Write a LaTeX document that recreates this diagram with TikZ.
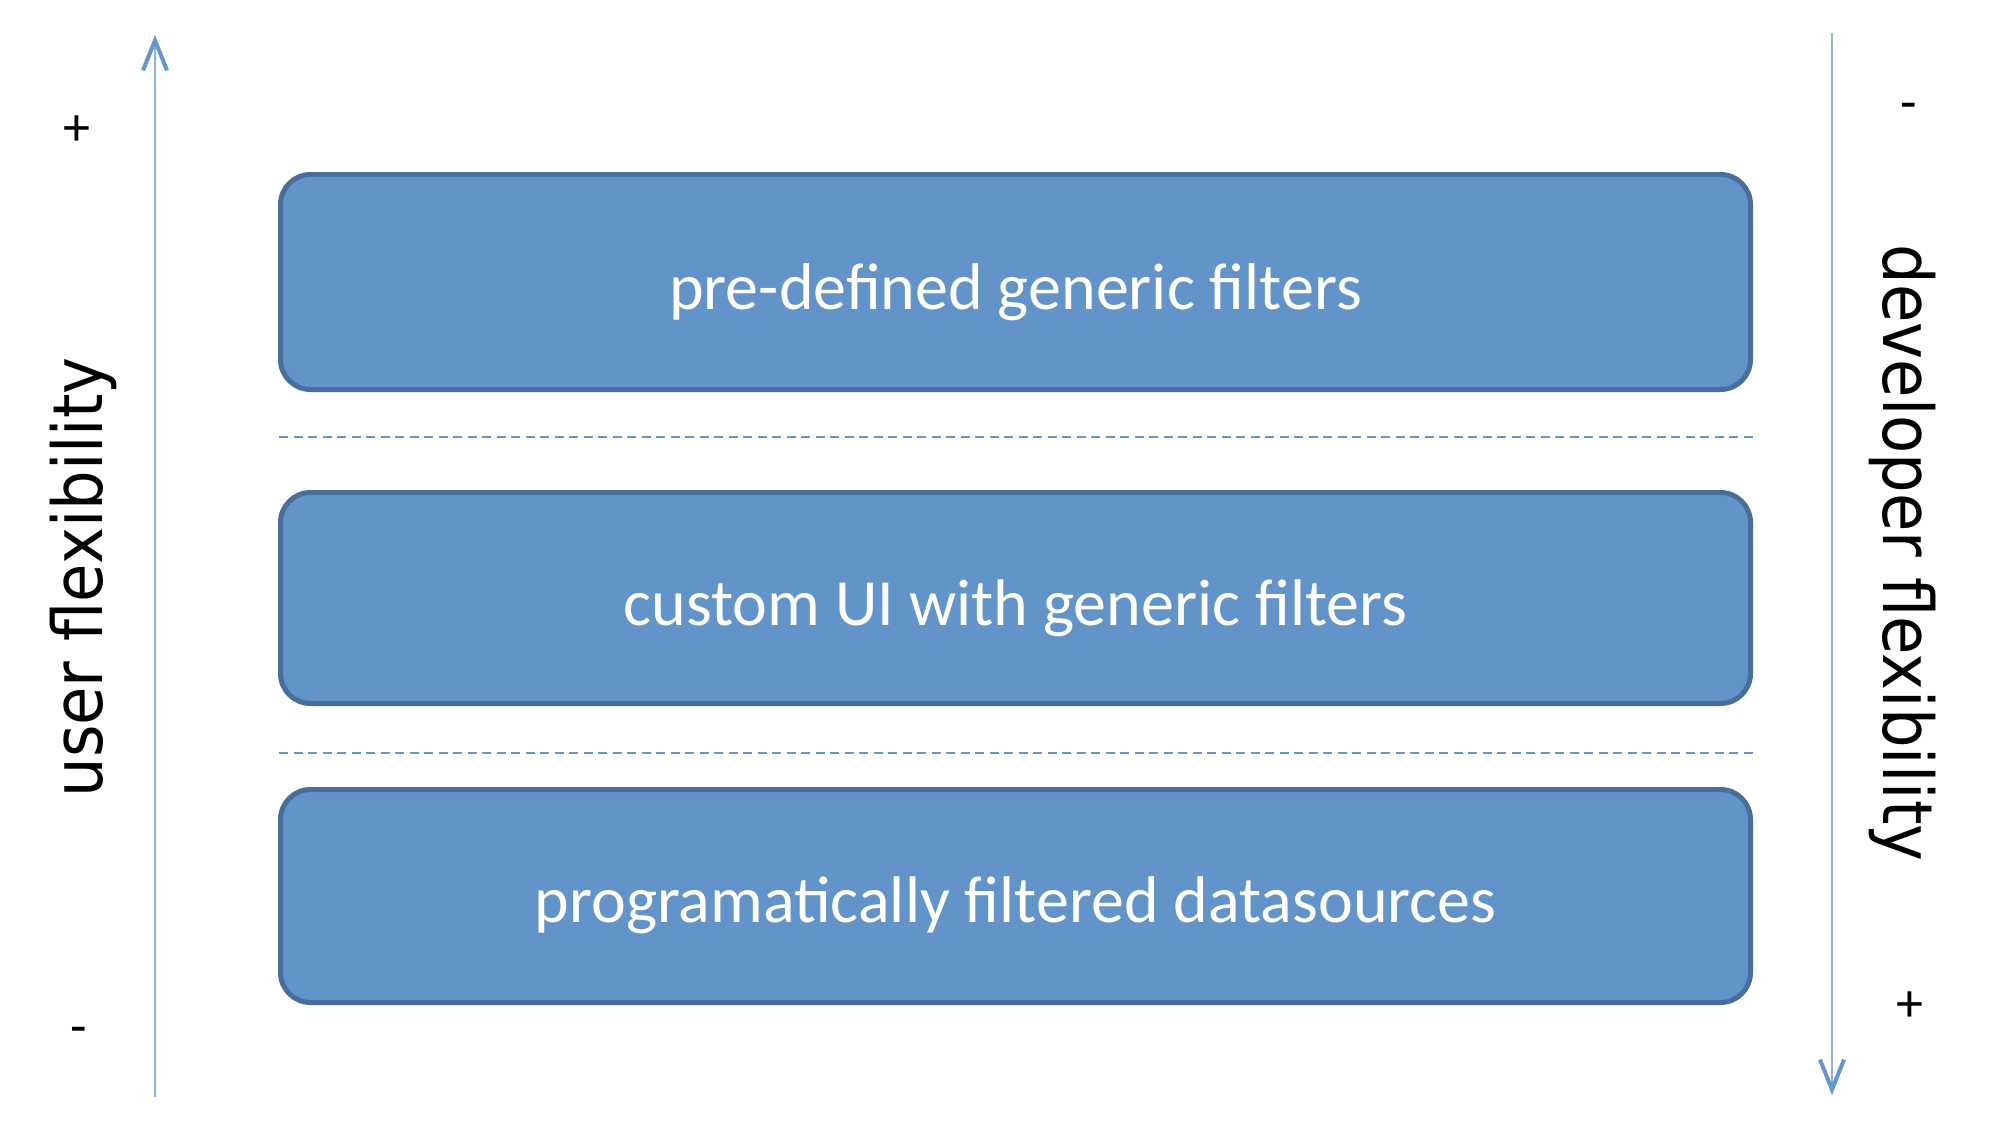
\documentclass[tikz,border=0pt]{standalone}
\usepackage{fontspec}
\usetikzlibrary{arrows.meta}
\newfontfamily\boxfont{Carlito}
\newfontfamily\axisfont[FakeStretch=0.905]{DejaVu Sans}
\definecolor{boxfill}{RGB}{99,148,201}
\definecolor{boxline}{RGB}{72,110,155}
\definecolor{dashcol}{RGB}{100,150,205}
\definecolor{shaftcol}{RGB}{140,178,222}
\definecolor{headcol}{RGB}{100,150,205}
\tikzset{
  layerbox/.style={draw=boxline, fill=boxfill, line width=2.5pt, rounded corners=15pt,
    minimum width=735pt, inner sep=0pt},
  layertext/.style={text=white, font=\boxfont\fontsize{33}{40}\selectfont, anchor=base, inner sep=0pt},
  axislabel/.style={font=\axisfont\fontsize{34.5}{40}\selectfont, anchor=base, inner sep=0pt},
  signlabel/.style={font=\boxfont\fontsize{27}{30}\selectfont, anchor=center, inner sep=0pt},
  axisarrow/.style={draw=shaftcol, line width=1.4pt,
    -{Straight Barb[length=15pt, width=12pt, line width=2pt, color=headcol]}},
  sepline/.style={draw=dashcol, line width=1pt, dash pattern=on 4.5pt off 2.75pt}
}
\begin{document}
\begin{tikzpicture}[x=0.5pt, y=-0.5pt]
\useasboundingbox (0,0) rectangle (1992,1142);
\fill[white] (0,0) rectangle (1992,1142);

% boxes
\node[layerbox, minimum height=107.5pt] (b1) at (1015.5,282) {};
\node[layerbox, minimum height=105.5pt] (b2) at (1015.5,598) {};
\node[layerbox, minimum height=106.5pt] (b3) at (1015.5,896) {};

\node[layertext] (t1) at ([yshift=-13.5pt]b1.center) {pre-defined generic filters};
\node[layertext] (t2) at ([yshift=-13.5pt]b2.center) {custom UI with generic filters};
\node[layertext] (t3) at ([yshift=-13pt]b3.center) {programatically filtered datasources};

% dashed separators
\coordinate (d1a) at (279,437);
\coordinate (d1b) at (1757,437);
\coordinate (d2a) at (279,753);
\coordinate (d2b) at (1757,753);
\draw[sepline] (d1a) -- (d1b);
\draw[sepline] (d2a) -- (d2b);

% axes
\coordinate (la) at (155,1097);
\coordinate (lb) at (155,35);
\coordinate (ra) at (1832,33);
\coordinate (rb) at (1832,1095);
\draw[axisarrow] (la) -- (lb);
\draw[axisarrow] (ra) -- (rb);

% axis labels
\node[axislabel, rotate=90] (ul) at (102,577.5) {user flexibility};
\node[axislabel, rotate=-90] (dl) at (1883,553) {developer flexibility};

% signs
\node[signlabel] (lp) at (77,131) {+};
\node[signlabel] (lm) at (79,1036) {-};
\node[signlabel] (rm) at (1909,112) {-};
\node[signlabel] (rp) at (1910,1007) {+};
\end{tikzpicture}
\end{document}
